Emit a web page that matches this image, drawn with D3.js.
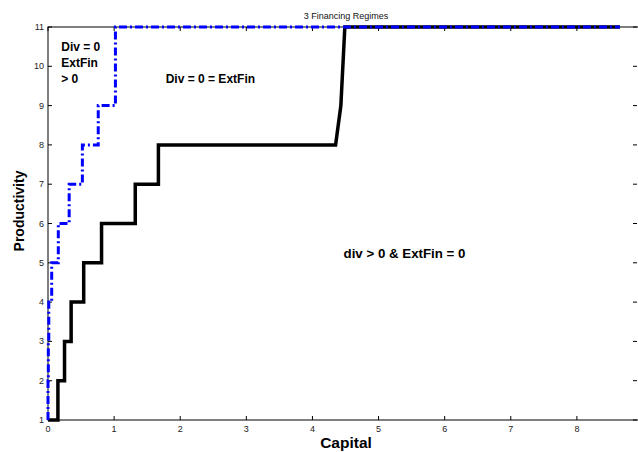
<!DOCTYPE html>
<html>
<head>
<meta charset="utf-8">
<script src="https://cdn.jsdelivr.net/npm/d3@7"></script>
<style>
body{margin:0;background:#fff;overflow:hidden}
text{font-family:"Liberation Sans",Arial,sans-serif}
</style>
</head>
<body>
<script>
// vertices (capital, productivity)
const blackCap  = [0,0.15,0.15,0.25,0.25,0.35,0.35,0.54,0.54,0.81,0.81,1.32,1.32,1.67,1.67,4.35,4.43,4.49,8.65]
const blackProd = [1,1,2,2,3,3,4,4,5,5,6,6,7,7,8,8,9,11,11]
const blueCap   = [0,0,0.005,0.005,0.012,0.012,0.056,0.056,0.156,0.156,0.32,0.32,0.52,0.52,0.76,0.76,1.02,1.02,8.65]
const blueProd  = [1,2,2,3,3,4,4,5,5,6,6,7,7,8,8,9,9,11,11]
const xTicks = [0,1,2,3,4,5,6,7,8]
const yTicks = [1,2,3,4,5,6,7,8,9,10,11]
const notes = [
	{lines:["Div = 0","ExtFin","> 0"],k:0.2,p:10.39,fs:12},
	{lines:["Div = 0 = ExtFin"],k:1.78,p:9.58,fs:12},
	{lines:["div > 0 & ExtFin = 0"],k:4.47,p:5.12,fs:13.3}
]

const W=638,H=452
const m={l:48,t:27,r:643,b:420}
const svg=d3.select("body").append("svg").attr("width",W).attr("height",H)

const x=d3.scaleLinear().domain([0,9]).range([m.l,m.r])
const y=d3.scaleLinear().domain([1,11]).range([m.b,m.t])

// box
svg.append("rect").attr("x",m.l).attr("y",m.t).attr("width",m.r-m.l).attr("height",m.b-m.t)
	.attr("fill","none").attr("stroke","#000").attr("stroke-width",1)

const tl=4
const g=svg.append("g").attr("stroke","#000").attr("stroke-width",1)
for(const t of xTicks){
	g.append("line").attr("x1",x(t)).attr("x2",x(t)).attr("y1",m.b).attr("y2",m.b-tl)
	g.append("line").attr("x1",x(t)).attr("x2",x(t)).attr("y1",m.t).attr("y2",m.t+tl)
}
for(const t of yTicks){
	g.append("line").attr("x1",m.l).attr("x2",m.l+tl).attr("y1",y(t)).attr("y2",y(t))
	g.append("line").attr("x1",637).attr("x2",637-tl).attr("y1",y(t)).attr("y2",y(t))
}
svg.selectAll(".xt").data(xTicks).enter().append("text")
	.attr("x",d=>x(d)).attr("y",m.b+12).attr("text-anchor","middle")
	.attr("font-size",9).attr("fill","#222").text(d=>d)
svg.selectAll(".yt").data(yTicks).enter().append("text")
	.attr("x",m.l-4).attr("y",d=>y(d)+3).attr("text-anchor","end")
	.attr("font-size",9).attr("fill","#222").text(d=>d)

const line=d3.line().x(d=>x(d[0])).y(d=>y(d[1]))
svg.append("path").datum(blackCap.map((k,i)=>[k,blackProd[i]]))
	.attr("d",line).attr("fill","none").attr("stroke","#000").attr("stroke-width",3.5)
	.attr("stroke-linejoin","miter")
svg.append("path").datum(blueCap.map((k,i)=>[k,blueProd[i]]))
	.attr("d",line).attr("fill","none").attr("stroke","#0000ff").attr("stroke-width",3)
	.attr("stroke-dasharray","8,3,2,3")

// labels
svg.append("text").attr("x",346).attr("y",19).attr("text-anchor","middle")
	.attr("font-size",9).attr("fill","#111").text("3 Financing Regimes")
svg.append("text").attr("x",346).attr("y",448).attr("text-anchor","middle")
	.attr("font-size",15.5).attr("font-weight","bold").text("Capital")
svg.append("text").attr("transform","translate(24,211) rotate(-90)").attr("text-anchor","middle")
	.attr("font-size",14).attr("font-weight","bold").text("Productivity")

for(const n of notes){
	const t=svg.append("text").attr("x",x(n.k)).attr("y",y(n.p))
		.attr("font-size",n.fs).attr("font-weight","bold")
	n.lines.forEach((s,i)=>t.append("tspan").attr("x",x(n.k)).attr("dy",i?16:0).text(s))
}
</script>
</body>
</html>
